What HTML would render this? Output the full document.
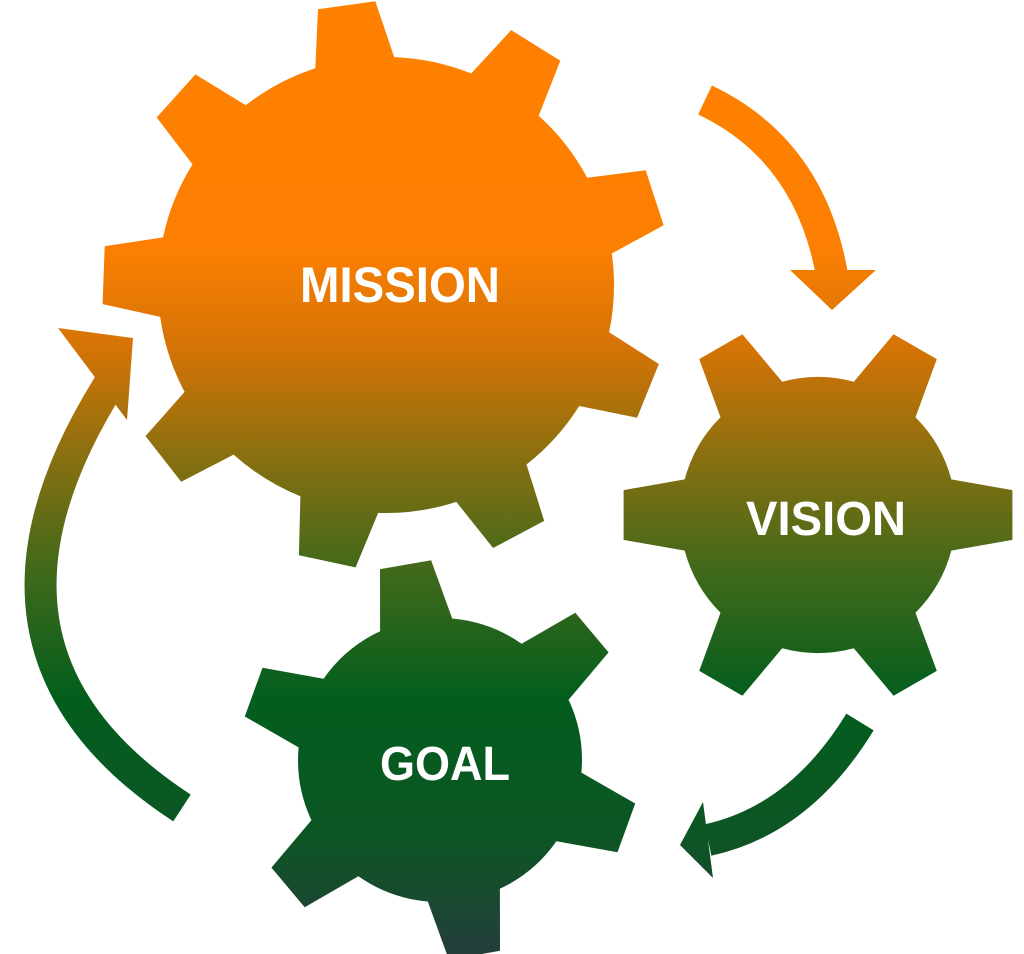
<!DOCTYPE html>
<html><head><meta charset="utf-8"><style>
html,body{margin:0;padding:0;background:#fff;width:1024px;height:954px;overflow:hidden}
text{font-family:"Liberation Sans",sans-serif;font-weight:bold;fill:#fff}
</style></head><body>
<svg id="s" width="1024" height="954" viewBox="0 0 1024 954" xmlns="http://www.w3.org/2000/svg">
<defs>
<linearGradient id="g" gradientUnits="userSpaceOnUse" x1="0" y1="0" x2="0" y2="954">
<stop offset="0" stop-color="#FF8000"/>
<stop offset="0.26" stop-color="#FC7F01"/>
<stop offset="0.37" stop-color="#D27306"/>
<stop offset="0.47" stop-color="#8F700F"/>
<stop offset="0.58" stop-color="#4A6A19"/>
<stop offset="0.73" stop-color="#035E1E"/>
<stop offset="0.88" stop-color="#0D5524"/>
<stop offset="1" stop-color="#243E3B"/>
</linearGradient>
</defs>
<g id="gears" fill="url(#g)"></g>
<g fill="none" stroke="url(#g)" stroke-width="32">
<path d="M705,100 Q810,150 832,275"/>
<path d="M182,808 Q-60,650 112,380"/>
<path d="M860,722 Q800,820 708,840"/>
</g>
<g fill="url(#g)">
<polygon points="790,270 876,270 832,310"/>
<polygon points="58,328 133,338 127,420"/>
<polygon points="703,802 680,845 713,878"/>
</g>
<text x="400" y="302" font-size="50" text-anchor="middle" textLength="200" lengthAdjust="spacingAndGlyphs">MISSION</text>
<text x="826" y="535" font-size="48" text-anchor="middle" textLength="160" lengthAdjust="spacingAndGlyphs">VISION</text>
<text x="445" y="780" font-size="48" text-anchor="middle" textLength="130" lengthAdjust="spacingAndGlyphs">GOAL</text>
</svg>
<script>
function gear(cx,cy,r,R,n,a0,bw,tw){
 var d="",step=2*Math.PI/n;
 for(var i=0;i<n;i++){
  var a=a0*Math.PI/180+i*step;
  var hb=bw/r/2, ht=tw/R/2;
  var pts=[[r,a-hb],[R,a-ht],[R,a+ht],[r,a+hb]];
  pts.forEach(function(p,j){
   var x=cx+p[0]*Math.cos(p[1]),y=cy+p[0]*Math.sin(p[1]);
   if(i==0&&j==0)d+="M"+x.toFixed(1)+","+y.toFixed(1);
   else if(j==0)d+="A"+r+","+r+" 0 0 1 "+x.toFixed(1)+","+y.toFixed(1);
   else d+="L"+x.toFixed(1)+","+y.toFixed(1);
  });
 }
 var x0=cx+r*Math.cos(a0*Math.PI/180-bw/r/2),y0=cy+r*Math.sin(a0*Math.PI/180-bw/r/2);
 d+="A"+r+","+r+" 0 0 1 "+x0.toFixed(1)+","+y0.toFixed(1)+"Z";
 return d;
}
var g=document.getElementById("gears"),ns="http://www.w3.org/2000/svg";
[[386,285,228,284,9,-98,80,58],[818,515,138,196,6,0,72,50],[440,760,142,200,6,-100,74,52]].forEach(function(p){
 var e=document.createElementNS(ns,"path");e.setAttribute("d",gear.apply(null,p));g.appendChild(e);
});
</script>
</body></html>
